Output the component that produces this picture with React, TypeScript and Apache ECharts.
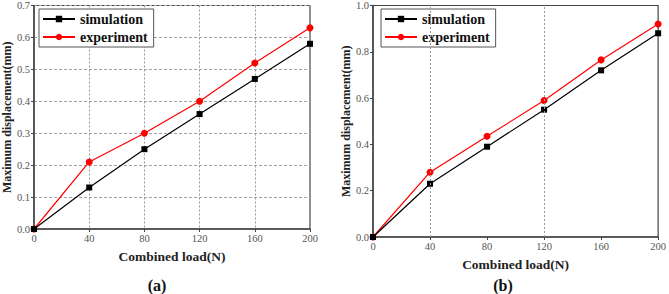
import React, { useEffect, useRef } from "react";
import * as echarts from "echarts";

const loads = [0, 40, 80, 120, 160, 200];
const xTicks = [0, 40, 80, 120, 160, 200];

const simA = [0, 0.13, 0.25, 0.36, 0.47, 0.58];
const expA = [0, 0.21, 0.3, 0.4, 0.52, 0.63];

const simB = [0, 0.23, 0.39, 0.55, 0.72, 0.88];
const expB = [0, 0.28, 0.435, 0.59, 0.765, 0.92];

// dotted guide lines for panel (b)
const vGuidesB = [40, 120];

const SERIF = "'Liberation Serif', 'Times New Roman', serif";
const AXIS_COLOR = "#444";
const LABEL_COLOR = "#555";
const V_GRID = { type: [2, 2], color: "#999", width: 1 };
const H_GRID = { type: [3, 2], color: "#a0a0a0", width: 1.2 };

const pairs = (ys: number[]) => loads.map((x, i) => [x, ys[i]]);

function xAxis(gridIndex: number, split: boolean) {
  return {
    type: "value",
    gridIndex,
    min: 0,
    max: 200,
    interval: 40,
    name: "Combined load(N)",
    nameLocation: "middle",
    nameGap: 20,
    nameTextStyle: { fontFamily: SERIF, fontWeight: "bold", fontSize: 13.5, color: "#222" },
    axisLine: { show: true, lineStyle: { color: AXIS_COLOR, width: 1.5 } },
    axisTick: { show: true, length: 3, lineStyle: { color: AXIS_COLOR } },
    axisLabel: { fontFamily: SERIF, fontSize: 10.5, color: LABEL_COLOR, margin: 4, customValues: xTicks },
    splitLine: { show: split, lineStyle: V_GRID },
  };
}

function yAxis(gridIndex: number, max: number, interval: number, split: boolean) {
  return {
    type: "value",
    gridIndex,
    min: 0,
    max,
    interval,
    name: "Maximum displacement(mm)",
    nameLocation: "middle",
    nameGap: 19,
    nameTextStyle: { fontFamily: SERIF, fontWeight: "bold", fontSize: 12, color: "#222" },
    axisLine: { show: true, lineStyle: { color: AXIS_COLOR, width: 1.5 } },
    axisTick: { show: true, length: 3, lineStyle: { color: AXIS_COLOR } },
    axisLabel: {
      fontFamily: SERIF,
      fontSize: 10.5,
      color: LABEL_COLOR,
      margin: 4,
      formatter: (v: number) => v.toFixed(1),
    },
    splitLine: { show: split, lineStyle: H_GRID },
  };
}

function lineSeries(
  name: string,
  data: number[],
  idx: number,
  color: string,
  symbol: string,
  symbolSize: number,
  extra: Record<string, unknown> = {}
) {
  return {
    name,
    type: "line",
    xAxisIndex: idx,
    yAxisIndex: idx,
    data: pairs(data),
    symbol,
    symbolSize,
    itemStyle: { color },
    lineStyle: { color, width: 1.2 },
    z: symbol === "rect" ? 3 : 2,
    ...extra,
  };
}

export default function App() {
  const ref = useRef<HTMLDivElement>(null);

  useEffect(() => {
    document.body.style.margin = "0";
    if (!ref.current) return;
    const chart = echarts.init(ref.current, undefined, { renderer: "svg" });

    const legendBase = {
      orient: "vertical",
      itemWidth: 32,
      itemHeight: 8,
      itemGap: 4,
      padding: [3, 6, 3, 3],
      borderColor: "#555",
      borderWidth: 1,
      backgroundColor: "#fff",
      textStyle: { fontFamily: SERIF, fontWeight: "bold", fontSize: 14, color: "#111" },
      data: ["simulation", "experiment"],
    };

    chart.setOption({
      animation: false,
      backgroundColor: "#fff",
      grid: [
        { left: 31, top: 4, width: 279, height: 225, show: true, borderColor: AXIS_COLOR, borderWidth: 1.2 },
        { left: 373, top: 5, width: 288, height: 232, show: true, borderColor: AXIS_COLOR, borderWidth: 1.2 },
      ],
      legend: [
        { ...legendBase, left: 39, top: 9 },
        { ...legendBase, left: 381, top: 9 },
      ],
      xAxis: [xAxis(0, true), xAxis(1, false)],
      yAxis: [yAxis(0, 0.7, 0.1, true), yAxis(1, 1.0, 0.2, false)],
      series: [
        lineSeries("simulation", simA, 0, "#000", "rect", 6),
        lineSeries("experiment", expA, 0, "#f00", "circle", 7),
        lineSeries("simulation", simB, 1, "#000", "rect", 6, {
          markLine: {
            silent: true,
            symbol: "none",
            label: { show: false },
            lineStyle: V_GRID,
            data: vGuidesB.map((x) => ({ xAxis: x })),
          },
        }),
        lineSeries("experiment", expB, 1, "#f00", "circle", 7),
      ],
      graphic: [
        {
          type: "text",
          x: 157,
          y: 285,
          style: { text: "(a)", font: `bold 16px ${SERIF}`, fill: "#111", align: "center", verticalAlign: "middle" },
        },
        {
          type: "text",
          x: 503,
          y: 285,
          style: { text: "(b)", font: `bold 16px ${SERIF}`, fill: "#111", align: "center", verticalAlign: "middle" },
        },
      ],
    });

    return () => chart.dispose();
  }, []);

  return <div ref={ref} style={{ width: 669, height: 294 }} />;
}
